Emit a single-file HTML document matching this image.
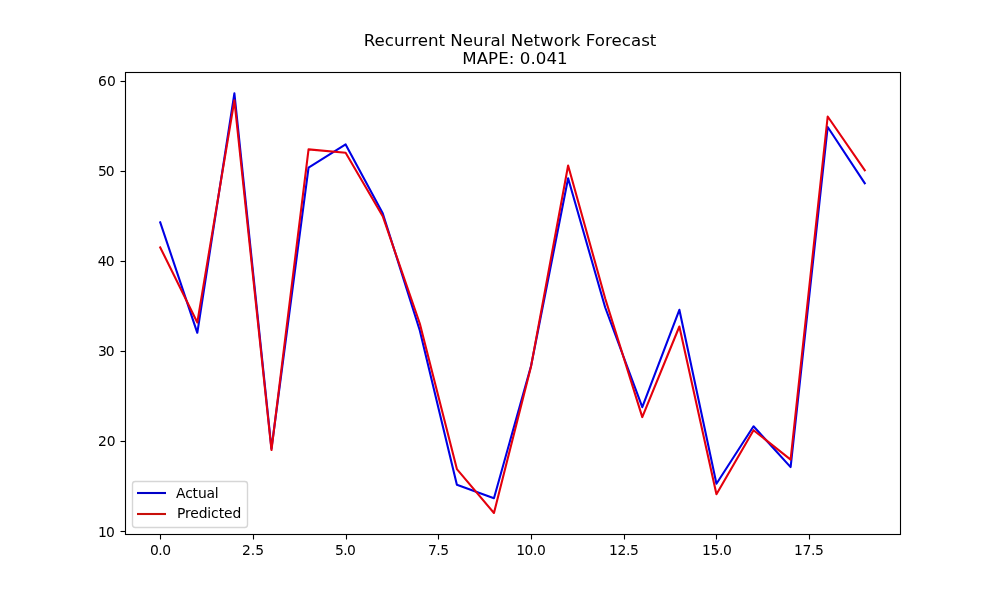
<!DOCTYPE html>
<html lang="en">
<head>
<meta charset="utf-8">
<title>Recurrent Neural Network Forecast</title>
<style>
html,body{margin:0;padding:0;background:#fff;}
body{width:1000px;height:600px;overflow:hidden;}
svg{display:block;}
text{font-family:"DejaVu Sans","Liberation Sans",sans-serif;fill:#000;}
.tick{font-size:13.889px;}
.title{font-size:16.667px;}
</style>
</head>
<body>
<svg width="1000" height="600" viewBox="0 0 1000 600">
<defs>
<filter id="t" x="0" y="0" width="1000" height="600" filterUnits="userSpaceOnUse" color-interpolation-filters="sRGB"><feOffset dx="0" dy="0"/></filter>
<clipPath id="ax"><rect x="125" y="72" width="775" height="462"/></clipPath>
</defs>
<rect x="0" y="0" width="1000" height="600" fill="#ffffff"/>
<g clip-path="url(#ax)" fill="none" stroke-width="2.0833" stroke-linejoin="round" stroke-linecap="square">
<polyline stroke="#0000e4" points="160.23,222.30 197.31,332.80 234.39,93.40 271.47,448.60 308.55,167.60 345.63,144.40 382.72,213.20 419.80,330.50 456.88,484.80 493.96,498.20 531.04,366.00 568.12,178.30 605.20,307.50 642.28,407.20 679.37,309.80 716.45,483.70 753.53,426.30 790.61,467.10 827.69,127.00 864.77,183.20"/>
<polyline stroke="#e4000c" points="160.23,247.40 197.31,322.50 234.39,100.40 271.47,450.00 308.55,149.40 345.63,152.80 382.72,216.20 419.80,323.50 456.88,469.10 493.96,513.00 531.04,366.40 568.12,165.50 605.20,298.50 642.28,417.10 679.37,326.50 716.45,494.30 753.53,430.20 790.61,459.60 827.69,116.50 864.77,170.20"/>
</g>
<g stroke="#000" stroke-width="1.1111" fill="none">
<line x1="160.50" y1="534.5" x2="160.50" y2="539.50"/>
<line x1="253.50" y1="534.5" x2="253.50" y2="539.50"/>
<line x1="346.50" y1="534.5" x2="346.50" y2="539.50"/>
<line x1="438.50" y1="534.5" x2="438.50" y2="539.50"/>
<line x1="531.50" y1="534.5" x2="531.50" y2="539.50"/>
<line x1="624.50" y1="534.5" x2="624.50" y2="539.50"/>
<line x1="716.50" y1="534.5" x2="716.50" y2="539.50"/>
<line x1="809.50" y1="534.5" x2="809.50" y2="539.50"/>
<line x1="125.5" y1="531.50" x2="120.50" y2="531.50"/>
<line x1="125.5" y1="441.50" x2="120.50" y2="441.50"/>
<line x1="125.5" y1="351.50" x2="120.50" y2="351.50"/>
<line x1="125.5" y1="261.50" x2="120.50" y2="261.50"/>
<line x1="125.5" y1="171.50" x2="120.50" y2="171.50"/>
<line x1="125.5" y1="81.50" x2="120.50" y2="81.50"/>
</g>
<rect x="125.5" y="72.5" width="775" height="462" fill="none" stroke="#000" stroke-width="1.1111" stroke-linejoin="miter"/>
<rect x="132.5" y="481.5" width="115" height="46" rx="2.78" ry="2.78" fill="#ffffff" fill-opacity="0.8" stroke="#cccccc" stroke-opacity="0.8" stroke-width="1.389"/>
<line x1="137" y1="493" x2="166" y2="493" stroke="#0000c8" stroke-width="2.0833"/>
<line x1="137" y1="514" x2="166" y2="514" stroke="#c80f0a" stroke-width="2.0833"/>
<g filter="url(#t)">
<text class="title" x="363.73" y="45.60" textLength="292.67" lengthAdjust="spacing">Recurrent Neural Network Forecast</text>
<text class="title" x="462.26" y="63.80" textLength="105.40" lengthAdjust="spacing">MAPE: 0.041</text>
<text class="tick" x="149.92" y="555.00" textLength="21.07" lengthAdjust="spacing">0.0</text>
<text class="tick" x="242.09" y="555.00" textLength="21.94" lengthAdjust="spacing">2.5</text>
<text class="tick" x="334.89" y="555.00" textLength="20.99" lengthAdjust="spacing">5.0</text>
<text class="tick" x="427.94" y="555.00" textLength="21.05" lengthAdjust="spacing">7.5</text>
<text class="tick" x="516.14" y="555.00" textLength="29.72" lengthAdjust="spacing">10.0</text>
<text class="tick" x="609.07" y="555.00" textLength="29.83" lengthAdjust="spacing">12.5</text>
<text class="tick" x="702.11" y="555.00" textLength="29.67" lengthAdjust="spacing">15.0</text>
<text class="tick" x="794.01" y="555.00" textLength="29.78" lengthAdjust="spacing">17.5</text>
<text class="tick" x="98.00" y="537.00" textLength="16.73" lengthAdjust="spacing">10</text>
<text class="tick" x="98.05" y="446.00" textLength="17.56" lengthAdjust="spacing">20</text>
<text class="tick" x="98.08" y="356.00" textLength="16.53" lengthAdjust="spacing">30</text>
<text class="tick" x="97.83" y="266.00" textLength="16.78" lengthAdjust="spacing">40</text>
<text class="tick" x="97.92" y="176.00" textLength="16.69" lengthAdjust="spacing">50</text>
<text class="tick" x="98.09" y="86.00" textLength="17.64" lengthAdjust="spacing">60</text>
<text class="tick" x="176.09" y="498.00" textLength="42.59" lengthAdjust="spacing">Actual</text>
<text class="tick" x="176.90" y="518.00" textLength="64.34" lengthAdjust="spacing">Predicted</text>
</g>
</svg>
</body>
</html>
